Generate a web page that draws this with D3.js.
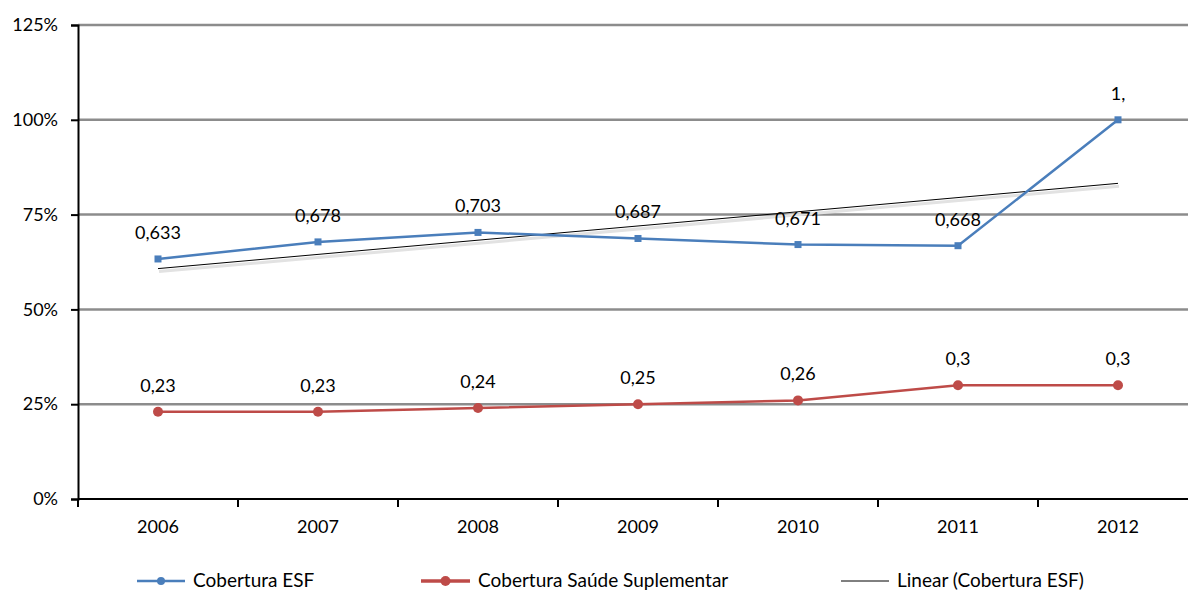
<!DOCTYPE html>
<html>
<head>
<meta charset="utf-8">
<script src="https://cdn.jsdelivr.net/npm/d3@7"></script>
<style>
  body { margin: 0; background: #fff; }
  svg { display: block; font-family: Lato, "Liberation Sans", sans-serif; }
</style>
</head>
<body>
<svg id="chart" width="1188" height="590"></svg>
<script>
// Coverage data, 2006–2012
const years = ["2006", "2007", "2008", "2009", "2010", "2011", "2012"];
const esf = [0.633, 0.678, 0.703, 0.687, 0.671, 0.668, 1.0];
const esfLabels = ["0,633", "0,678", "0,703", "0,687", "0,671", "0,668", "1,"];
const suplementar = [0.23, 0.23, 0.24, 0.25, 0.26, 0.30, 0.30];
const suplementarLabels = ["0,23", "0,23", "0,24", "0,25", "0,26", "0,3", "0,3"];
const yTicks = [0, 0.25, 0.5, 0.75, 1.0, 1.25];
const legendNames = ["Cobertura ESF", "Cobertura Saúde Suplementar", "Linear (Cobertura ESF)"];

const svg = d3.select("#chart");
const plotLeft = 78, plotRight = 1198, plotTop = 25, plotBottom = 499;

const x = d3.scaleBand().domain(years).range([plotLeft, plotRight]);
const y = d3.scaleLinear().domain([0, 1.25]).range([plotBottom, plotTop]);
const cx = d => x(d) + x.bandwidth() / 2;

const blue = "#4A7EBB", red = "#BE4B48";
const numSize = 18, legendSize = 19;

// Horizontal gridlines
svg.append("g").selectAll("line").data(yTicks.filter(t => t > 0)).join("line")
  .attr("x1", plotLeft).attr("x2", 1188)
  .attr("y1", d => y(d)).attr("y2", d => y(d))
  .attr("stroke", "#8c8c8c").attr("stroke-width", 2.5);

// Y axis
const yAxis = d3.axisLeft(y).tickValues(yTicks).tickSize(7).tickPadding(13)
  .tickFormat(d => Math.round(d * 100) + "%");
const gy = svg.append("g").attr("transform", `translate(${plotLeft},0)`).call(yAxis);
gy.select(".domain").attr("stroke", "#000").attr("stroke-width", 2);
gy.selectAll(".tick line").attr("stroke", "#000").attr("stroke-width", 2);
gy.selectAll(".tick text").attr("font-size", numSize).attr("fill", "#000")
  .attr("font-family", "Lato, 'Liberation Sans', sans-serif");

// X axis with ticks at band boundaries
const gx = svg.append("g").attr("transform", `translate(0,${plotBottom})`);
gx.append("line").attr("x1", plotLeft).attr("x2", plotRight).attr("y1", 0).attr("y2", 0)
  .attr("stroke", "#000").attr("stroke-width", 2);
const bounds = years.map(d => x(d)).concat([plotRight]);
gx.selectAll("line.tk").data(bounds).join("line").attr("class", "tk")
  .attr("x1", d => d).attr("x2", d => d).attr("y1", 0).attr("y2", 8)
  .attr("stroke", "#000").attr("stroke-width", 2);
gx.selectAll("text").data(years).join("text")
  .attr("x", d => cx(d)).attr("y", 34).attr("text-anchor", "middle")
  .attr("font-size", numSize).attr("fill", "#000").text(d => d);

// Least-squares trend of ESF coverage
const n = esf.length;
const xi = d3.range(n);
const mx = d3.mean(xi), my = d3.mean(esf);
const slope = d3.sum(xi, i => (i - mx) * (esf[i] - my)) / d3.sum(xi, i => (i - mx) ** 2);
const intercept = my - slope * mx;
const trend = [0, n - 1].map(i => ({ year: years[i], v: intercept + slope * i }));

const trendLine = d3.line().x(d => cx(d.year)).y(d => y(d.v));
svg.append("path").datum(trend).attr("d", trendLine)
  .attr("transform", "translate(1,3)")
  .attr("fill", "none").attr("stroke", "#e2e2e2").attr("stroke-width", 3);
svg.append("path").datum(trend).attr("d", trendLine)
  .attr("fill", "none").attr("stroke", "#000").attr("stroke-width", 1);

// Series lines
const line = d3.line().x((d, i) => cx(years[i])).y(d => y(d));
svg.append("path").datum(esf).attr("d", line)
  .attr("fill", "none").attr("stroke", blue).attr("stroke-width", 2.5);
svg.append("path").datum(suplementar).attr("d", line)
  .attr("fill", "none").attr("stroke", red).attr("stroke-width", 2.5);

// Markers
svg.append("g").selectAll("rect").data(esf).join("rect")
  .attr("x", (d, i) => cx(years[i]) - 3.5).attr("y", d => y(d) - 3.5)
  .attr("width", 7).attr("height", 7).attr("fill", blue);
svg.append("g").selectAll("circle").data(suplementar).join("circle")
  .attr("cx", (d, i) => cx(years[i])).attr("cy", d => y(d))
  .attr("r", 5).attr("fill", red);

// Data labels
svg.append("g").selectAll("text").data(esf).join("text")
  .attr("x", (d, i) => cx(years[i])).attr("y", d => y(d) - 20)
  .attr("text-anchor", "middle").attr("font-size", numSize).attr("fill", "#000")
  .text((d, i) => esfLabels[i]);
svg.append("g").selectAll("text").data(suplementar).join("text")
  .attr("x", (d, i) => cx(years[i])).attr("y", d => y(d) - 20)
  .attr("text-anchor", "middle").attr("font-size", numSize).attr("fill", "#000")
  .text((d, i) => suplementarLabels[i]);

// Legend
const ly = 581;
const legend = svg.append("g").attr("font-size", legendSize);
const items = [
  { x1: 137, x2: 185, tx: 193, color: blue, w: 2.5, marker: "dot" },
  { x1: 421, x2: 470, tx: 478, color: red, w: 3.5, marker: "circle" },
  { x1: 841, x2: 889, tx: 897, color: "#000", w: 1, marker: null }
];
items.forEach((it, k) => {
  legend.append("line").attr("x1", it.x1).attr("x2", it.x2).attr("y1", ly).attr("y2", ly)
    .attr("stroke", it.color).attr("stroke-width", it.w);
  const mxp = (it.x1 + it.x2) / 2;
  if (it.marker === "dot") {
    legend.append("circle").attr("cx", mxp).attr("cy", ly).attr("r", 4).attr("fill", it.color);
  } else if (it.marker === "circle") {
    legend.append("circle").attr("cx", mxp).attr("cy", ly).attr("r", 5).attr("fill", it.color);
  }
  legend.append("text").attr("x", it.tx).attr("y", ly + 6).attr("fill", "#000").text(legendNames[k]);
});
</script>
</body>
</html>
